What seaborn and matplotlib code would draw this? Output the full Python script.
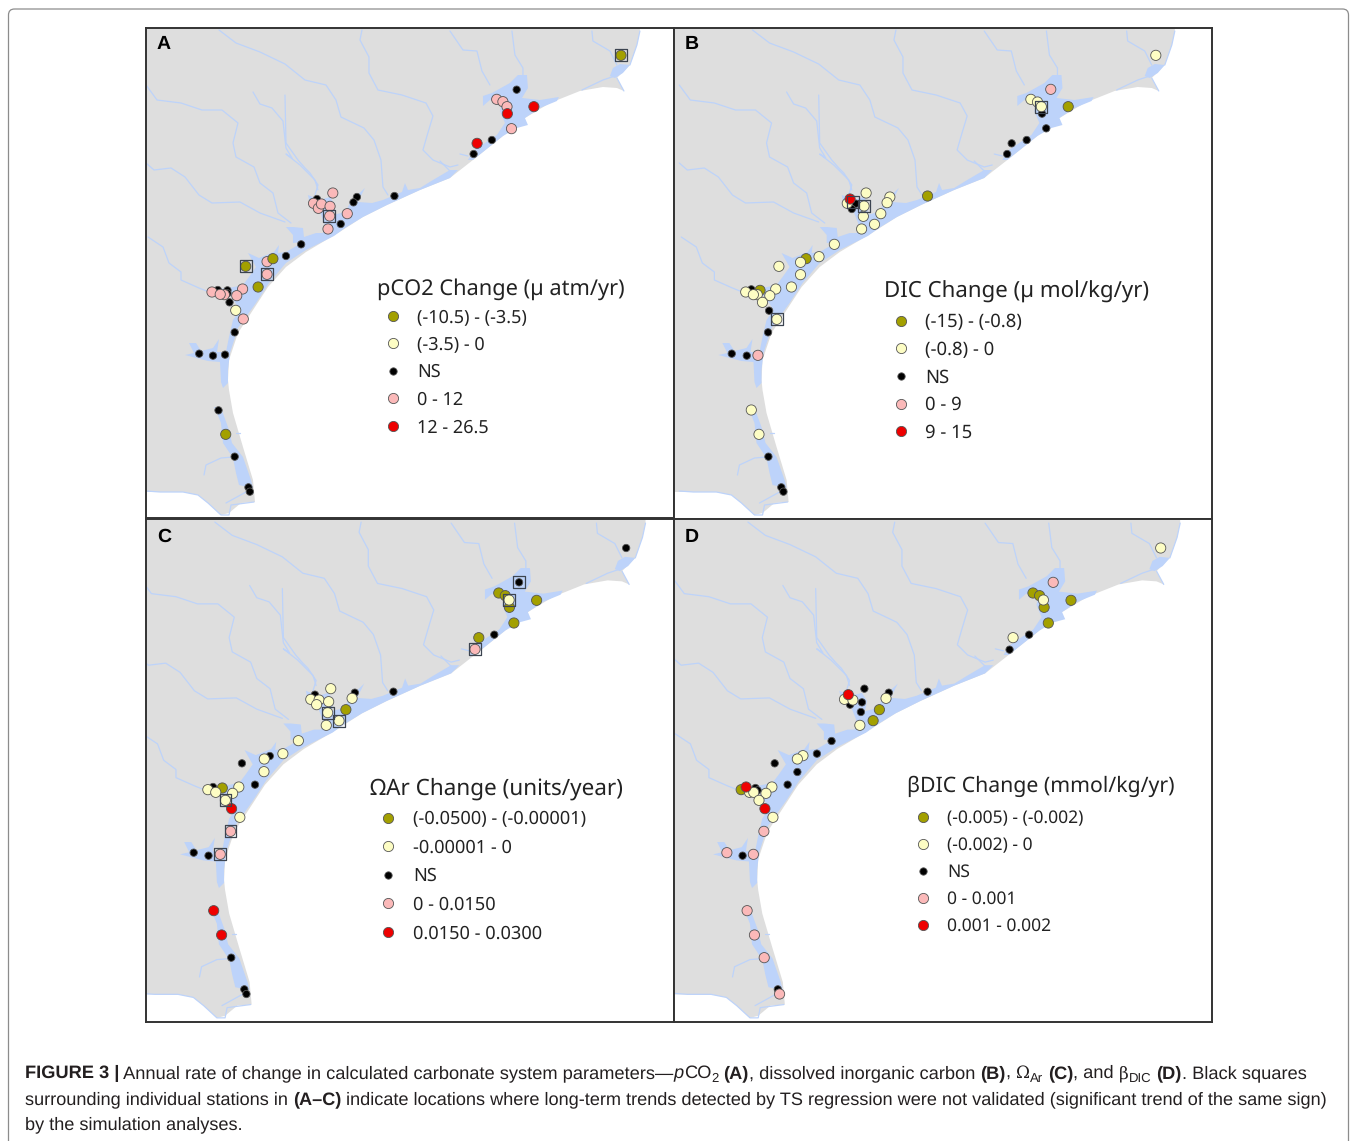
#!/usr/bin/env python3
"""Four-panel map of carbonate system trends along the Texas coast -> out.png"""

import matplotlib
matplotlib.use("Agg")
import matplotlib.pyplot as plt
import numpy as np
import pandas as pd
import seaborn as sns
from matplotlib.lines import Line2D
from matplotlib.patches import FancyBboxPatch

W, H = 1357, 1141

CLASSES = ["ns", "pink", "olive", "pale", "red"]
COLORS = {"olive": "#a3a000", "pale": "#fdfdc4", "ns": "#000000", "pink": "#fbb9b9", "red": "#ee0000"}
SIZES = {"olive": 54, "pale": 54, "ns": 28, "pink": 54, "red": 54}
LEGEND_ORDER = ["olive", "pale", "ns", "pink", "red"]

# stations, in map units
A_OLIVE = [(1397, 106), (386, 716), (307, 739), (343, 801), (249, 1243)]
A_PALE = [(278, 871)]
A_NS = [(1094, 209), (1022, 360), (969, 402), (514, 537), (630, 531), (620, 547), (739, 528), (583, 612),
        (468, 673), (424, 708), (226, 810), (254, 811), (254, 820), (260, 847), (275, 937), (172, 1001),
        (212, 1007), (247, 1004), (228, 1171), (275, 1310), (315, 1402), (319, 1415)]
A_PINK = [(1036, 238), (1054, 245), (1066, 260), (1079, 326), (560, 519), (504, 550), (518, 565), (527, 552),
          (552, 559), (551, 588), (602, 581), (546, 627), (369, 725), (369, 763), (298, 807), (281, 827),
          (209, 816), (245, 824), (233, 823), (300, 897)]
A_RED = [(1144, 260), (1067, 281), (979, 370)]
A_BOX = [(1397, 106), (550, 588), (307, 739), (369, 763)]

B_OLIVE = [(1141, 260), (738, 528), (390, 716), (258, 811)]
B_PALE = [(1392, 106), (1034, 238), (1053, 246), (1064, 260), (562, 519), (508, 550), (556, 558), (630, 531),
          (622, 548), (604, 581), (554, 589), (586, 613), (549, 627), (471, 673), (427, 710), (374, 727),
          (312, 739), (374, 764), (348, 801), (303, 807), (286, 827), (217, 816), (250, 824), (239, 824),
          (265, 847), (306, 898), (233, 1170), (255, 1243)]
B_NS = [(1066, 281), (1078, 325), (1022, 360), (979, 370), (966, 402), (533, 551), (521, 567), (233, 808),
        (284, 872), (281, 937), (177, 1001), (220, 1007), (282, 1310), (319, 1402), (325, 1415)]
B_PINK = [(1091, 208), (252, 1006)]
B_RED = [(516, 537)]
B_BOX = [(1064, 260), (555, 558), (525, 545), (306, 898)]

C_OLIVE = [(1042, 234), (1061, 242), (1073, 277), (1152, 256), (1086, 324), (984, 368), (598, 584), (239, 819)]
C_PALE = [(1072, 255), (554, 521), (496, 553), (520, 555), (513, 569), (548, 560), (616, 550), (545, 593),
          (578, 617), (541, 631), (460, 677), (415, 716), (361, 732), (360, 770), (287, 816), (269, 835),
          (197, 824), (220, 832), (248, 856), (290, 907)]
C_NS = [(1412, 99), (1101, 202), (1029, 359), (508, 539), (624, 533), (736, 530), (296, 745), (377, 723),
        (334, 809), (212, 816), (156, 1013), (199, 1022), (265, 1328), (303, 1423), (309, 1437)]
C_PINK = [(973, 403), (263, 949), (233, 1018)]
C_RED = [(266, 881), (214, 1187), (237, 1260)]
C_BOX = [(1101, 202), (1072, 256), (973, 403), (545, 593), (578, 617), (248, 856), (263, 949), (233, 1018)]

D_OLIVE = [(1040, 234), (1059, 242), (1072, 277), (1149, 256), (1084, 324), (600, 584), (582, 617), (204, 824)]
D_PALE = [(1406, 99), (1070, 255), (983, 368), (500, 553), (524, 555), (619, 550), (544, 631), (381, 722),
          (365, 732), (292, 816), (275, 835), (228, 832), (240, 832), (255, 856), (295, 907)]
D_NS = [(1029, 359), (973, 404), (557, 521), (516, 569), (550, 562), (627, 533), (547, 591), (738, 530),
        (463, 678), (421, 716), (300, 745), (365, 771), (337, 809), (245, 819), (251, 826), (208, 1022), (309, 1423)]
D_PINK = [(1098, 202), (269, 949), (163, 1013), (239, 1018), (221, 1187), (242, 1260), (270, 1328), (314, 1437)]
D_RED = [(511, 539), (218, 816), (272, 881)]

# map outline, water and rivers as traced on panel A
LAND = [(140, 20), (640, 20), (640, 31), (637, 45), (630, 65), (617, 78), (624, 91), (617, 88), (603, 87), (580, 91),
        (550, 103), (525, 118), (503, 136), (473, 160), (450, 178), (420, 190), (387, 205), (363, 217), (338, 233),
        (306, 252), (286, 267), (268, 287), (253, 310), (238, 333), (229, 360), (228, 380), (229, 390), (233, 413),
        (243, 447), (253, 480), (255, 502), (241, 503), (229, 513), (221, 515), (208, 503), (198, 495), (183, 492),
        (159, 492), (140, 492)]
BAYS = [
    # Sabine
    [(613, 68), (620, 64), (630, 65), (623, 73), (615, 78), (610, 76)],
    # Galveston
    [(492, 93), (510, 83), (518, 75), (527, 75), (528, 88), (522, 98), (540, 100), (559, 97), (557, 101), (540, 108),
     (525, 118), (528, 125), (517, 128), (503, 136), (473, 160), (468, 160), (473, 151), (497, 135), (505, 123),
     (500, 111), (502, 103), (490, 100), (483, 106), (483, 96)],
    # Corpus Christi up to Matagorda
    [(221, 382), (220, 362), (208, 361), (185, 355), (194, 353), (189, 343), (196, 343), (201, 351), (213, 348),
     (219, 339), (217, 352), (226, 352), (229, 337), (233, 320), (240, 310), (231, 296), (208, 294), (208, 290),
     (229, 288), (243, 285), (249, 277), (256, 267), (248, 253), (259, 258), (274, 252), (279, 245), (278, 253),
     (286, 252), (293, 248), (303, 242), (293, 243), (293, 235), (286, 227), (293, 227), (303, 228), (304, 237),
     (316, 233), (323, 233), (325, 225), (320, 212), (310, 205), (308, 195), (320, 200), (330, 197), (335, 205),
     (333, 215), (345, 212), (352, 200), (365, 188), (358, 202), (372, 203), (383, 200), (402, 192), (405, 183),
     (408, 190), (420, 188), (433, 180), (450, 170), (458, 170), (450, 178), (420, 190), (387, 205), (363, 217),
     (345, 228), (334, 236), (306, 250), (286, 263), (269, 283), (256, 303), (238, 328), (230, 353), (228, 370),
     (228, 383), (223, 388)],
    # Laguna Madre
    [(214, 407), (221, 408), (228, 427), (232, 443), (243, 457), (251, 480), (253, 488), (248, 487), (239, 485),
     (236, 473), (233, 458), (223, 443), (221, 423), (217, 413)],
]
RIVERS = [
    [(285, 95), (286, 143), (298, 160), (305, 168), (310, 173), (318, 185), (315, 195)],
    [(253, 92), (260, 104), (272, 108), (283, 121), (286, 148), (292, 158), (286, 154), (300, 165), (315, 180), (318, 190)],
    [(219, 30), (236, 43), (260, 52), (285, 64), (305, 80), (326, 85), (336, 100), (341, 117), (364, 128), (374, 140),
     (381, 160), (383, 187), (388, 195)],
    [(362, 30), (360, 40), (369, 57), (369, 73), (378, 90), (402, 95), (426, 103), (433, 116), (427, 136), (423, 150),
     (433, 160), (450, 167), (458, 165)],
    [(450, 31), (463, 50), (477, 51), (482, 71), (490, 85)],
    [(512, 31), (515, 55), (523, 68), (523, 78)],
    [(592, 31), (593, 41), (610, 51), (617, 65)],
    [(640, 31), (637, 45), (630, 65)],
    [(617, 78), (624, 91)],
    [(582, 90), (603, 80), (615, 76)],
    [(146, 85), (157, 100), (181, 103), (202, 110), (222, 110), (238, 123), (233, 143), (236, 157), (254, 167),
     (260, 183), (273, 193), (278, 213), (291, 223)],
    [(146, 163), (154, 170), (171, 168), (185, 177), (199, 195), (212, 203), (240, 202), (260, 213), (285, 222)],
    [(148, 237), (163, 247), (169, 263), (181, 272), (181, 280), (199, 288), (209, 292)],
    [(204, 475), (206, 465), (221, 458), (233, 457)],
    [(226, 503), (246, 492), (253, 493)],
    [(146, 491), (160, 492), (183, 492), (198, 495), (208, 503), (221, 515), (229, 515), (231, 505), (254, 502)],
    [(460, 154), (468, 156)],
    [(440, 161), (450, 171)],
    [(236, 433), (240, 433)],
]

PANELS = [
    dict(tag="A", px=(146, 674, 28, 518), lim=(17.4, 1551, 24, 1494), base=(1.0, 0.0, 1.0, 0.0),
         pts=(A_OLIVE, A_PALE, A_NS, A_PINK, A_RED), box=A_BOX, title="pCO2 Change (µ atm/yr)",
         labels=["(-10.5) - (-3.5)", "(-3.5) - 0", "NS", "0 - 12", "12 - 26.5"],
         leg=(377, 278), fs=(15.7, 13.0), spacing=0.53, sep=6, hand=(1.77, 0.44)),
    dict(tag="B", px=(674, 1212, 28, 519), lim=(11.5, 1553, 24, 1497), base=(0.9898, 9.3, 1.0, 0.0),
         pts=(B_OLIVE, B_PALE, B_NS, B_PINK, B_RED), box=B_BOX, title="DIC Change (µ mol/kg/yr)",
         labels=["(-15) - (-0.8)", "(-0.8) - 0", "NS", "0 - 9", "9 - 15"],
         leg=(884, 281), fs=(16.0, 13.3), spacing=0.5, sep=7, hand=(1.84, 0.38)),
    dict(tag="C", px=(146, 674, 519, 1022), lim=(17.4, 1551, 12, 1521), base=(1.0232, -17.4, 1.0222, -9.4),
         pts=(C_OLIVE, C_PALE, C_NS, C_PINK, C_RED), box=C_BOX, title="ΩAr Change (units/year)",
         labels=["(-0.0500) - (-0.00001)", "-0.00001 - 0", "NS", "0 - 0.0150", "0.0150 - 0.0300"],
         leg=(370, 778), fs=(16.2, 13.1), spacing=0.57, sep=7, hand=(1.98, 0.38)),
    dict(tag="D", px=(674, 1212, 519, 1022), lim=(11.5, 1553, 12, 1521), base=(1.013, -9.1, 1.0222, -9.4),
         pts=(D_OLIVE, D_PALE, D_NS, D_PINK, D_RED), box=[], title="βDIC Change (mmol/kg/yr)",
         labels=["(-0.005) - (-0.002)", "(-0.002) - 0", "NS", "0 - 0.001", "0.001 - 0.002"],
         leg=(907, 776), fs=(15.3, 12.6), spacing=0.54, sep=9, hand=(1.83, 0.46)),
]

sns.set_theme(style="white")
plt.rcParams["font.family"] = ["Noto Sans", "DejaVu Sans"]
plt.rcParams["text.hinting"] = "no_hinting"
LAND_C, WATER_C = "#dedede", "#bdd3fa"

fig = plt.figure(figsize=(W / 100, H / 100), dpi=100, facecolor="white")

# outer rounded frame of the figure page
bg = fig.add_axes([0, 0, 1, 1], zorder=0)
bg.set_xlim(0, W)
bg.set_ylim(H, 0)
bg.axis("off")
bg.add_patch(FancyBboxPatch((8.5, 9), 1340, 1200, boxstyle="round,pad=0,rounding_size=6",
                            fc="none", ec="#8c8c8c", lw=0.9))


def to_panel(points, base):
    # traced outline is in panel A picture coordinates
    xy = np.array(points, dtype=float)
    mx, my = (xy[:, 0] - 140) * 2.904, (xy[:, 1] - 20) * 3
    return mx * base[0] + base[1], my * base[2] + base[3]


def draw_panel(p):
    x0, x1, y0, y1 = p["px"]
    ax = fig.add_axes([x0 / W, 1 - y1 / H, (x1 - x0) / W, (y1 - y0) / H], zorder=2)
    ax.set_xlim(p["lim"][0], p["lim"][1])
    ax.set_ylim(p["lim"][3], p["lim"][2])
    ax.set_facecolor("white")

    lx, ly = to_panel(LAND, p["base"])
    ax.fill(lx, ly, color=LAND_C, lw=0, zorder=1)
    for bay in BAYS:
        bx, by = to_panel(bay, p["base"])
        ax.fill(bx, by, color=WATER_C, lw=0, zorder=1.5)
    for river in RIVERS:
        rx, ry = to_panel(river, p["base"])
        ax.plot(rx, ry, color=WATER_C, lw=0.9, zorder=1.2)

    frames = []
    by_name = dict(zip(["olive", "pale", "ns", "pink", "red"], p["pts"]))
    for name in CLASSES:
        xy = np.array(by_name[name], dtype=float)
        frames.append(pd.DataFrame({"x": xy[:, 0], "y": xy[:, 1], "cls": name}))
    df = pd.concat(frames, ignore_index=True)
    sns.scatterplot(data=df, x="x", y="y", hue="cls", size="cls", palette=COLORS, sizes=SIZES,
                    edgecolor="#555555", linewidth=0.6, legend=False, ax=ax, zorder=3)
    if p["box"]:
        bx = np.array(p["box"], dtype=float)
        ax.scatter(bx[:, 0], bx[:, 1], marker="s", s=72, facecolors="none", edgecolors="#3c4450", lw=0.9, zorder=4)

    ax.set(xlabel="", ylabel="", xticks=[], yticks=[])
    for s in ax.spines.values():
        s.set_visible(True)
        s.set_color("#333333")
        s.set_linewidth(1.4)

    letter_y = y0 + (16.5 if y0 < 100 else 18)
    ax.text((x0 + 11) / W, 1 - letter_y / H, p["tag"], transform=fig.transFigure, family="Liberation Sans",
            weight="bold", fontsize=14, color="black", va="center", ha="left")

    handles = [Line2D([], [], ls="", marker="o", mfc=COLORS[c], mec="#555555", mew=0.6,
                      ms=(SIZES[c]) ** 0.5) for c in LEGEND_ORDER]
    tfs, lfs = p["fs"]
    leg = ax.legend(handles, p["labels"], title=p["title"], loc="upper left", numpoints=1,
                    bbox_to_anchor=(p["leg"][0] / W, 1 - p["leg"][1] / H), bbox_transform=fig.transFigure,
                    frameon=False, borderpad=0, borderaxespad=0, fontsize=lfs, labelspacing=p["spacing"],
                    handlelength=p["hand"][0], handletextpad=p["hand"][1],
                    title_fontproperties={"size": tfs, "family": "Noto Sans"})
    leg._legend_box.align = "left"
    leg._legend_box.sep = p["sep"]
    for t in leg.get_texts():
        t.set_color("#222222")
    leg.get_title().set_color("#222222")


for panel in PANELS:
    draw_panel(panel)

# caption, written as runs of differently styled text
CAP_LINES = [
    (1072, 13.18, [("FIGURE 3 |", "b"), (" Annual rate of change in calculated carbonate system parameters\u2014", "r"),
                   ("p", "i"), ("CO", "r"), ("2", "s"), (" ", "r"), ("(A)", "b"), (", dissolved inorganic carbon ", "r"),
                   ("(B)", "b"), (", ", "r"), ("Ω", "g"), ("Ar", "s"), (" ", "r"), ("(C)", "b"), (", and ", "r"),
                   ("β", "g"), ("DIC", "s"), (" ", "r"), ("(D)", "b"), (". Black squares", "r")]),
    (1098, 13.03, [("surrounding individual stations in ", "r"), ("(A\u2013C)", "b"),
                   (" indicate locations where long-term trends detected by TS regression were not validated "
                    "(significant trend of the same sign)", "r")]),
    (1123, 13.1, [("by the simulation analyses.", "r")]),
]


def cap_style(st, fs):
    if st == "b":
        return dict(family="Liberation Sans", fontsize=fs, weight="bold")
    if st == "i":
        return dict(family="Liberation Sans", fontsize=fs, style="italic")
    if st == "s":
        return dict(family="Liberation Sans", fontsize=fs * 0.72)
    if st == "g":
        return dict(family="DejaVu Serif", fontsize=fs * 0.92)
    return dict(family="Liberation Sans", fontsize=fs)


renderer = fig.canvas.get_renderer()
for ypos, fs, runs in CAP_LINES:
    xpos = 25.0
    for txt, st in runs:
        dy = 4 if st == "s" else 0
        style = cap_style(st, fs)
        bg.text(xpos, ypos + 6 + dy, txt, va="baseline", ha="left", color="#231f20", **style)
        # trailing spaces are not measured by the extent, so measure with a guard glyph
        probe = bg.text(0, 0, txt + "|", **style)
        bar = bg.text(0, 0, "|", **style)
        xpos += probe.get_window_extent(renderer).width - bar.get_window_extent(renderer).width
        probe.remove()
        bar.remove()

fig.savefig("out.png", dpi=100)
print("wrote out.png")
